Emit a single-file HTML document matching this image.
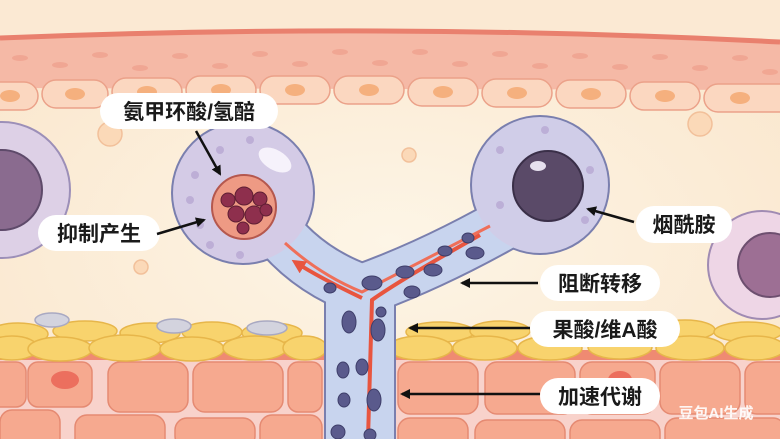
<!DOCTYPE html>
<html><head><meta charset="utf-8"><style>
html,body{margin:0;padding:0;width:780px;height:439px;overflow:hidden;background:#fcefdc}
svg{display:block}
text{font-family:"Liberation Sans","Noto Sans CJK SC",sans-serif;font-weight:700;fill:#1a1a1a}
</style></head><body>
<svg width="780" height="439" viewBox="0 0 780 439" xmlns="http://www.w3.org/2000/svg">
<defs>
<radialGradient id="bg" cx="50%" cy="55%" r="70%"><stop offset="0" stop-color="#fdf5e6"/><stop offset="1" stop-color="#fae6cc"/></radialGradient>
<marker id="ah" markerWidth="10" markerHeight="10" refX="8" refY="5" orient="auto" markerUnits="userSpaceOnUse"><path d="M0,0 L10,5 L0,10 Z" fill="#111"/></marker>
<marker id="rh" markerWidth="14" markerHeight="14" refX="10" refY="7" orient="auto" markerUnits="userSpaceOnUse"><path d="M0,0 L14,7 L0,14 Z" fill="#e8553f"/></marker>
</defs>
<rect width="780" height="439" fill="url(#bg)"/>
<path d="M0,38 Q390,22 780,42 L780,0 L0,0Z" fill="#fbe9d3"/>
<path d="M0,38 Q390,22 780,42 L780,90 L0,88Z" fill="#f5b9a6"/>
<path d="M0,38 Q390,22 780,42" stroke="#e9806e" stroke-width="5" fill="none"/>
<g fill="#ef9f8c" opacity="0.7">
<ellipse cx="20" cy="58" rx="8" ry="3"/><ellipse cx="60" cy="65" rx="8" ry="3"/><ellipse cx="100" cy="55" rx="8" ry="3"/><ellipse cx="140" cy="68" rx="8" ry="3"/><ellipse cx="180" cy="56" rx="8" ry="3"/><ellipse cx="220" cy="66" rx="8" ry="3"/><ellipse cx="260" cy="54" rx="8" ry="3"/><ellipse cx="300" cy="64" rx="8" ry="3"/><ellipse cx="340" cy="52" rx="8" ry="3"/><ellipse cx="380" cy="63" rx="8" ry="3"/><ellipse cx="420" cy="52" rx="8" ry="3"/><ellipse cx="460" cy="64" rx="8" ry="3"/><ellipse cx="500" cy="54" rx="8" ry="3"/><ellipse cx="540" cy="66" rx="8" ry="3"/><ellipse cx="580" cy="56" rx="8" ry="3"/><ellipse cx="620" cy="67" rx="8" ry="3"/><ellipse cx="660" cy="57" rx="8" ry="3"/><ellipse cx="700" cy="68" rx="8" ry="3"/><ellipse cx="740" cy="58" rx="8" ry="3"/><ellipse cx="770" cy="72" rx="8" ry="3"/>
</g>
<g fill="#fbd7c0" stroke="#eba189" stroke-width="1.5">
<rect x="-20" y="82" width="58" height="28" rx="14"/><rect x="42" y="80" width="66" height="28" rx="14"/><rect x="112" y="78" width="70" height="28" rx="14"/><rect x="186" y="76" width="70" height="28" rx="14"/><rect x="260" y="76" width="70" height="28" rx="14"/><rect x="334" y="76" width="70" height="28" rx="14"/><rect x="408" y="78" width="70" height="28" rx="14"/><rect x="482" y="79" width="70" height="28" rx="14"/><rect x="556" y="80" width="70" height="28" rx="14"/><rect x="630" y="82" width="70" height="28" rx="14"/><rect x="704" y="84" width="90" height="28" rx="14"/>
</g>
<g fill="#f5b07e">
<ellipse cx="10" cy="96" rx="10" ry="6"/><ellipse cx="75" cy="94" rx="10" ry="6"/><ellipse cx="147" cy="92" rx="10" ry="6"/><ellipse cx="221" cy="90" rx="10" ry="6"/><ellipse cx="295" cy="90" rx="10" ry="6"/><ellipse cx="369" cy="90" rx="10" ry="6"/><ellipse cx="443" cy="92" rx="10" ry="6"/><ellipse cx="517" cy="93" rx="10" ry="6"/><ellipse cx="591" cy="94" rx="10" ry="6"/><ellipse cx="665" cy="96" rx="10" ry="6"/><ellipse cx="740" cy="98" rx="10" ry="6"/>
</g>
<g fill="#fbd9b8" stroke="#f2c09a" stroke-width="1.5"><circle cx="110" cy="134" r="12"/><circle cx="409" cy="155" r="7"/><circle cx="700" cy="124" r="12"/><circle cx="141" cy="267" r="7"/></g>
<rect x="0" y="352" width="780" height="87" fill="#f8d2cb"/>
<g fill="#f6a98f" stroke="#e58a72" stroke-width="1.5">
<rect x="-10" y="362" width="36" height="45" rx="10"/><rect x="28" y="362" width="64" height="45" rx="10"/><rect x="108" y="362" width="80" height="50" rx="12"/><rect x="193" y="362" width="90" height="50" rx="12"/><rect x="288" y="362" width="34" height="50" rx="10"/>
<rect x="0" y="410" width="60" height="40" rx="12"/><rect x="75" y="415" width="90" height="40" rx="12"/><rect x="175" y="418" width="80" height="30" rx="12"/><rect x="260" y="415" width="62" height="40" rx="12"/>
<rect x="398" y="362" width="80" height="52" rx="12"/><rect x="485" y="362" width="90" height="52" rx="12"/><rect x="580" y="362" width="75" height="52" rx="12"/><rect x="660" y="362" width="80" height="52" rx="12"/><rect x="745" y="362" width="50" height="52" rx="12"/>
<rect x="398" y="418" width="70" height="40" rx="12"/><rect x="475" y="420" width="90" height="40" rx="12"/><rect x="570" y="420" width="90" height="40" rx="12"/><rect x="665" y="418" width="120" height="40" rx="12"/>
</g>
<g fill="#ec6f5e"><ellipse cx="65" cy="380" rx="14" ry="9"/><ellipse cx="620" cy="380" rx="12" ry="9"/></g>
<rect x="0" y="350" width="780" height="10" fill="#ef8a72"/>
<g fill="#f8d36d" stroke="#e7b64a" stroke-width="1.5">
<ellipse cx="18" cy="334" rx="30" ry="11"/><ellipse cx="85" cy="331" rx="32" ry="10"/><ellipse cx="150" cy="333" rx="30" ry="10"/><ellipse cx="212" cy="332" rx="30" ry="10"/><ellipse cx="272" cy="333" rx="30" ry="10"/>
<ellipse cx="12" cy="348" rx="26" ry="12"/><ellipse cx="60" cy="349" rx="32" ry="12"/><ellipse cx="125" cy="348" rx="36" ry="13"/><ellipse cx="192" cy="349" rx="32" ry="12"/><ellipse cx="255" cy="348" rx="32" ry="12"/><ellipse cx="305" cy="348" rx="22" ry="12"/>
<ellipse cx="440" cy="332" rx="34" ry="10"/><ellipse cx="500" cy="331" rx="30" ry="10"/><ellipse cx="600" cy="332" rx="30" ry="10"/><ellipse cx="685" cy="330" rx="30" ry="10"/><ellipse cx="748" cy="332" rx="34" ry="10"/>
<ellipse cx="420" cy="348" rx="32" ry="12"/><ellipse cx="485" cy="348" rx="32" ry="12"/><ellipse cx="550" cy="348" rx="32" ry="12"/><ellipse cx="620" cy="347" rx="32" ry="12"/><ellipse cx="690" cy="348" rx="34" ry="12"/><ellipse cx="755" cy="348" rx="30" ry="12"/>
</g>
<g fill="#d3d3de" stroke="#a9a9c2" stroke-width="1.5"><ellipse cx="52" cy="320" rx="17" ry="7"/><ellipse cx="174" cy="326" rx="17" ry="7"/><ellipse cx="267" cy="328" rx="20" ry="7"/></g>
<circle cx="2" cy="190" r="68" fill="#ddd0e6" stroke="#9c8fb8" stroke-width="2"/>
<circle cx="2" cy="190" r="40" fill="#8a6b8f" stroke="#5e4a6a" stroke-width="2"/>
<circle cx="762" cy="265" r="54" fill="#eed6e6" stroke="#a08bb3" stroke-width="2"/>
<circle cx="770" cy="265" r="32" fill="#9d6f94" stroke="#6d4f6f" stroke-width="2"/>
<!-- melanocyte outline -->
<g stroke="#7a7fae" fill="none">
<path d="M265,215 Q300,268 362,290" stroke-width="54" stroke-linecap="round"/>
<path d="M525,212 Q440,262 362,290" stroke-width="54" stroke-linecap="round"/>
<path d="M360,300 L360,460" stroke-width="72" stroke-linecap="butt"/>
</g>
<circle cx="243" cy="193" r="72" fill="#7a7fae"/>
<circle cx="540" cy="185" r="70" fill="#7a7fae"/>
<g stroke="#c8d4ee" fill="none">
<path d="M265,215 Q300,268 362,290" stroke-width="50" stroke-linecap="round"/>
<path d="M525,212 Q440,262 362,290" stroke-width="50" stroke-linecap="round"/>
<path d="M360,280 L360,460" stroke-width="68" stroke-linecap="butt"/>
</g>
<circle cx="243" cy="193" r="70" fill="#d4cbe6"/>
<circle cx="540" cy="185" r="68" fill="#d0cde8"/>
<ellipse cx="275" cy="160" rx="18" ry="10" fill="#f6f2fb" transform="rotate(30 275 160)"/>
<g fill="#b8a8d3" opacity="0.8"><circle cx="195" cy="175" r="4"/><circle cx="190" cy="200" r="4"/><circle cx="200" cy="225" r="4"/><circle cx="220" cy="150" r="4"/><circle cx="250" cy="140" r="4"/><circle cx="210" cy="245" r="4"/><circle cx="240" cy="255" r="4"/><circle cx="500" cy="150" r="4"/><circle cx="500" cy="205" r="4"/><circle cx="590" cy="170" r="4"/><circle cx="585" cy="220" r="4"/><circle cx="545" cy="130" r="4"/></g>
<circle cx="244" cy="207" r="32" fill="#ee9a84" stroke="#b5584e" stroke-width="2"/>
<g fill="#8e2f4d" stroke="#5f1e33" stroke-width="1"><circle cx="244" cy="196" r="9"/><circle cx="260" cy="199" r="7"/><circle cx="228" cy="200" r="7"/><circle cx="236" cy="214" r="8"/><circle cx="254" cy="215" r="9"/><circle cx="243" cy="228" r="6"/><circle cx="266" cy="210" r="6"/></g>
<circle cx="548" cy="186" r="35" fill="#5a4a68" stroke="#3a2f48" stroke-width="2"/>
<ellipse cx="538" cy="166" rx="8" ry="5" fill="#e6e0ee"/>
<path d="M285,243 Q320,275 362,292 Q420,262 490,226" stroke="#ef6f59" stroke-width="3" fill="none"/>
<path d="M480,235 Q400,280 372,300 L368,439" stroke="#e8553f" stroke-width="4" fill="none"/>
<path d="M362,298 Q320,278 295,262" stroke="#e8553f" stroke-width="4" fill="none" marker-end="url(#rh)"/>
<g fill="#5a5a8c" stroke="#3e3e6a" stroke-width="1">
<ellipse cx="330" cy="288" rx="6" ry="5"/><ellipse cx="372" cy="283" rx="10" ry="7"/><ellipse cx="405" cy="272" rx="9" ry="6"/><ellipse cx="433" cy="270" rx="9" ry="6"/><ellipse cx="412" cy="292" rx="8" ry="6"/><ellipse cx="445" cy="251" rx="7" ry="5"/><ellipse cx="468" cy="238" rx="6" ry="5"/><ellipse cx="475" cy="253" rx="9" ry="6"/>
<ellipse cx="349" cy="322" rx="7" ry="11"/><ellipse cx="378" cy="330" rx="7" ry="11"/><ellipse cx="381" cy="312" rx="5" ry="5"/><ellipse cx="343" cy="370" rx="6" ry="8"/><ellipse cx="362" cy="367" rx="6" ry="8"/><ellipse cx="344" cy="400" rx="6" ry="7"/><ellipse cx="374" cy="400" rx="7" ry="11"/><ellipse cx="338" cy="432" rx="7" ry="7"/><ellipse cx="370" cy="435" rx="6" ry="6"/>
</g>
<g fill="#ffffff">
<rect x="100" y="93" width="178" height="36" rx="18"/>
<rect x="38" y="215" width="122" height="36" rx="18"/>
<rect x="636" y="206" width="96" height="37" rx="18"/>
<rect x="540" y="265" width="120" height="36" rx="18"/>
<rect x="530" y="311" width="150" height="36" rx="18"/>
<rect x="540" y="378" width="120" height="36" rx="18"/>
</g>
<text x="189" y="119" font-size="21" text-anchor="middle">氨甲环酸/氢醅</text>
<text x="99" y="241" font-size="21" text-anchor="middle">抑制产生</text>
<text x="684" y="232" font-size="21" text-anchor="middle">烟酰胺</text>
<text x="600" y="291" font-size="21" text-anchor="middle">阻断转移</text>
<text x="605" y="337" font-size="21" text-anchor="middle">果酸/维A酸</text>
<text x="600" y="404" font-size="21" text-anchor="middle">加速代谢</text>
<text x="716" y="418" font-size="15" text-anchor="middle" style="fill:#ffffff;opacity:0.9">豆包AI生成</text>
<g stroke="#111" stroke-width="2.5" fill="none" marker-end="url(#ah)">
<line x1="196" y1="131" x2="220" y2="174"/>
<line x1="157" y1="234" x2="204" y2="220"/>
<line x1="634" y1="222" x2="588" y2="209"/>
<line x1="538" y1="283" x2="462" y2="283"/>
<line x1="530" y1="328" x2="410" y2="328"/>
<line x1="540" y1="394" x2="402" y2="394"/>
</g>
</svg>
</body></html>
